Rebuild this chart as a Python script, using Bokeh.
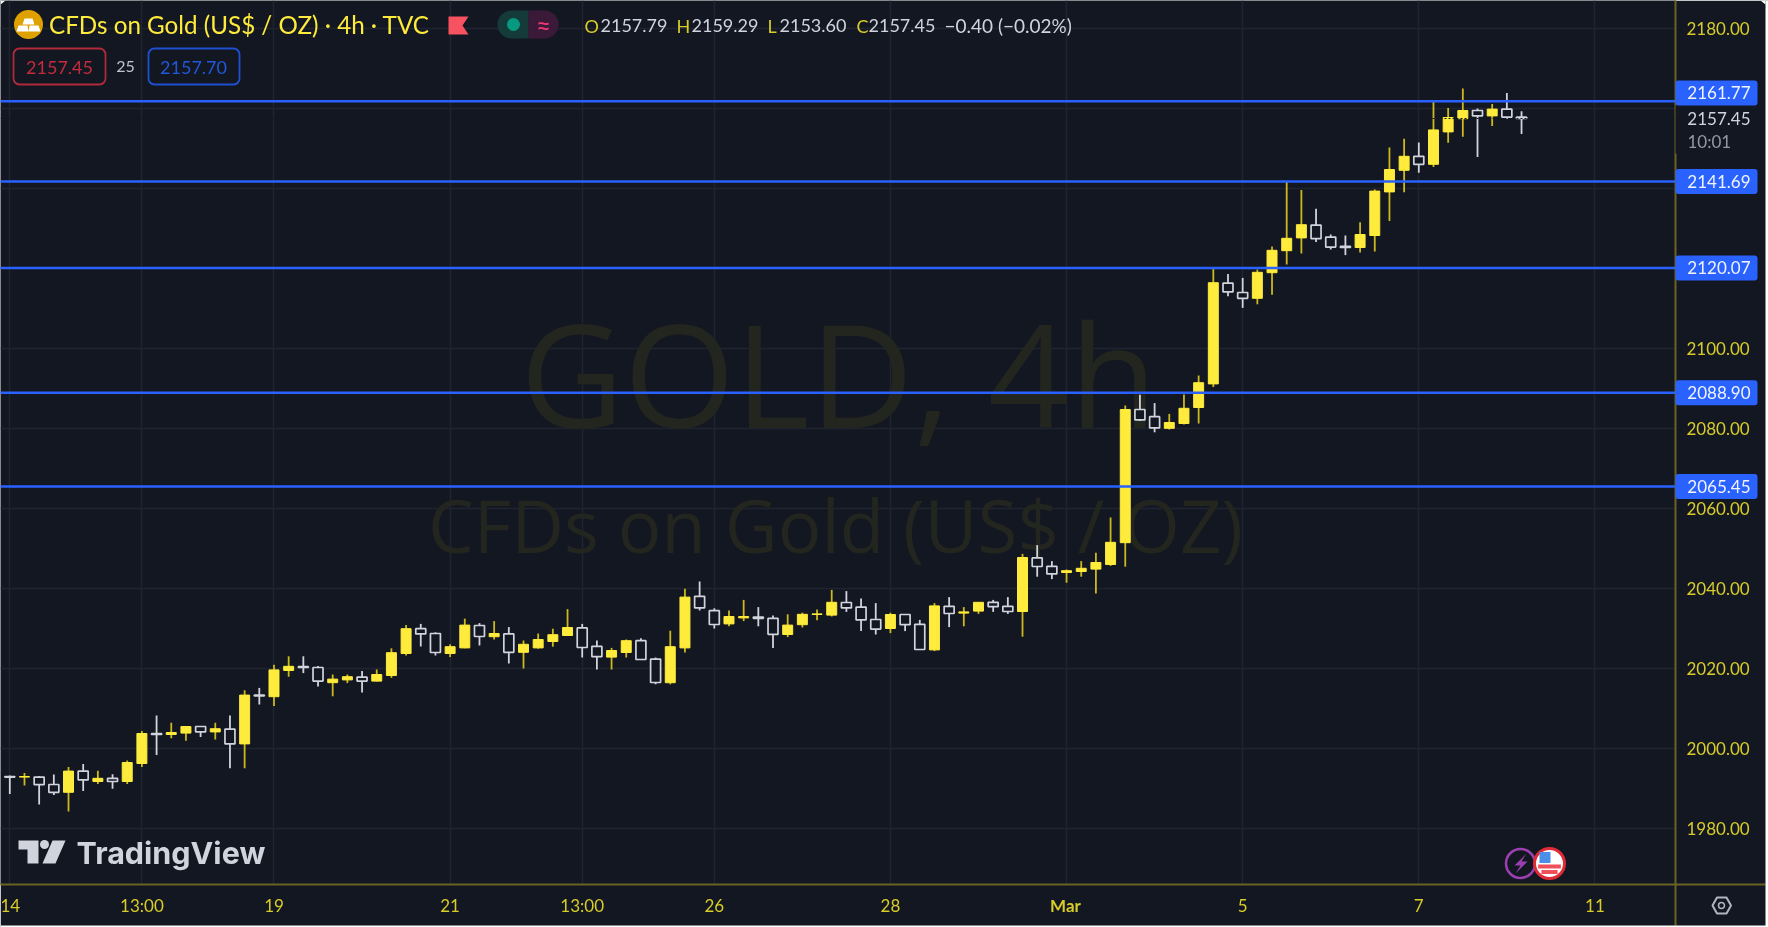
from bokeh.plotting import figure
from bokeh.embed import file_html
from bokeh.resources import INLINE
from bokeh.models import (ColumnDataSource, Range1d, FixedTicker, LinearAxis, Label,
                          BoxAnnotation, PolyAnnotation, Span, Grid)

opens = [1992.95,1992.8,1992.8,1990.95,1989.0,1994.3,1991.7,1992.5,1991.7,1996.2,
         2003.7,2003.45,2003.8,2005.45,2004.1,2004.8,2001.1,2013.3,2012.9,2019.45,
         2020.4,2020.2,2016.4,2017.1,2017.8,2016.8,2018.2,2023.7,2029.9,2028.7,
         2023.7,2025.1,2030.7,2027.9,2028.6,2024.0,2025.1,2026.7,2028.2,2030.1,
         2025.5,2022.8,2023.95,2026.9,2022.3,2016.4,2025.1,2038.0,2034.4,2031.1,
         2032.6,2032.8,2032.5,2028.45,2030.9,2033.45,2033.3,2036.45,2035.3,2032.2,
         2029.95,2033.45,2031.0,2024.6,2035.5,2033.8,2034.3,2036.5,2035.5,2034.2,
         2047.6,2045.5,2043.95,2044.2,2044.8,2045.95,2051.4,2084.7,2082.9,2080.0,
         2081.2,2085.2,2091.1,2116.3,2113.95,2112.5,2118.9,2124.4,2127.6,2130.8,
         2127.8,2125.5,2125.2,2128.2,2139.1,2144.5,2148.0,2146.0,2154.1,2157.4,
         2159.45,2158.1,2159.8,2157.79]
highs = [1993.2,1993.8,1993.1,1993.45,1995.3,1996.1,1994.4,1993.5,1996.95,2004.3,
         2008.2,2006.4,2005.45,2005.5,2006.4,2008.2,2014.5,2015.1,2020.9,2023.0,
         2023.0,2020.6,2018.45,2018.45,2019.3,2019.7,2025.0,2030.8,2031.1,2029.0,
         2026.0,2032.4,2031.3,2031.8,2030.3,2026.95,2028.7,2029.9,2034.8,2031.1,
         2026.95,2025.1,2027.2,2027.5,2022.7,2029.4,2039.9,2041.7,2035.0,2034.45,
         2037.1,2035.3,2033.2,2033.5,2033.9,2034.7,2039.6,2039.3,2037.45,2036.3,
         2033.9,2033.45,2032.1,2036.3,2037.8,2035.3,2036.5,2037.1,2037.8,2048.6,
         2050.8,2046.8,2044.7,2046.8,2048.9,2057.7,2085.7,2088.4,2086.3,2083.6,
         2088.45,2093.2,2120.0,2118.6,2117.6,2119.7,2125.45,2141.7,2139.6,2134.9,
         2128.45,2128.2,2131.5,2139.7,2150.2,2152.4,2151.45,2161.6,2160.1,2164.95,
         2159.95,2161.1,2163.8,2159.29]
lows = [1988.6,1990.7,1985.95,1988.3,1984.2,1989.3,1991.1,1989.9,1991.1,1995.3,
        1998.3,2002.5,2001.9,2002.8,2002.2,1995.0,1995.0,2010.95,2010.6,2017.9,
        2018.8,2015.45,2013.0,2016.3,2013.95,2016.7,2017.6,2023.2,2025.45,2023.2,
        2022.8,2025.0,2025.7,2027.2,2021.2,2019.95,2024.9,2025.4,2028.1,2022.7,
        2019.7,2019.7,2022.7,2022.1,2016.0,2016.0,2023.95,2034.45,2029.95,2030.5,
        2031.8,2030.5,2025.1,2027.8,2030.2,2032.0,2032.95,2034.1,2029.3,2028.45,
        2028.8,2029.3,2024.6,2024.3,2030.3,2030.5,2033.6,2034.1,2033.6,2027.9,
        2042.9,2042.3,2041.4,2042.9,2038.7,2045.6,2045.4,2081.8,2079.0,2079.7,
        2080.95,2081.2,2090.3,2113.0,2110.1,2111.0,2113.4,2120.95,2123.7,2126.6,
        2124.7,2123.3,2123.95,2124.2,2131.8,2139.0,2143.9,2145.3,2151.4,2152.9,
        2147.8,2155.6,2157.3,2153.60]
closes = [1992.8,1992.95,1990.9,1989.0,1994.3,1992.1,1992.5,1991.7,1996.45,2003.7,
          2003.5,2003.95,2005.45,2004.1,2004.9,2001.1,2013.3,2013.1,2019.6,2020.5,
          2020.2,2016.8,2017.3,2017.9,2016.8,2018.45,2023.9,2029.9,2028.6,2023.95,
          2025.4,2030.8,2027.95,2028.7,2024.0,2026.0,2027.2,2028.4,2030.2,2025.2,
          2022.9,2024.45,2026.9,2022.2,2016.45,2025.4,2037.8,2035.1,2030.95,2032.95,
          2032.95,2032.5,2028.5,2030.8,2033.5,2033.6,2036.5,2035.1,2032.1,2029.8,
          2033.45,2030.9,2024.7,2035.6,2033.7,2034.1,2036.5,2035.4,2034.2,2047.7,
          2045.45,2043.6,2044.4,2045.0,2046.45,2051.5,2084.7,2082.1,2080.1,2081.45,
          2085.0,2091.4,2116.4,2114.1,2112.5,2119.0,2124.5,2127.5,2130.9,2127.4,
          2125.3,2125.2,2128.45,2139.3,2144.7,2148.0,2146.0,2154.6,2157.7,2159.45,
          2158.1,2159.8,2157.8,2157.45]

level_prices = [2161.77, 2141.69, 2120.07, 2088.90, 2065.45]
price_ticks = [1980,2000,2020,2040,2060,2080,2100,2120,2140,2160,2180]
price_ticks_under_tags = [2120,2140,2160]
time_tick_bars = [0,9,18,30,39,48,60,72,84,96,108]
time_tick_labels = ["14","13:00","19","21","13:00","26","28","","5","7","11"]

BG = "#131722"; GRID = "#1f2430"; AXIS = "#6b6322"; TICKTXT = "#d8cc28"
UP = "#ffeb3b"; UPW = "#cdb81e"; DOWN = "#d1d4dc"; BLUE = "#2962ff"
FONT = "Lato"

FW, FH = 1675, 884
X0, X1 = -0.634, 113.49
Y_TOP, Y_BOT = 2186.95, 1965.95
def dx(px): return X0 + px * (X1 - X0) / FW
def dy(py): return Y_TOP - py * (Y_TOP - Y_BOT) / FH
def price_px(v): return (Y_TOP - v) * FH / (Y_TOP - Y_BOT)

FIXED = {"position": "fixed", "left": "0px", "top": "0px"}
p = figure(frame_width=FW, frame_height=FH, output_backend="svg", toolbar_location=None,
           x_range=Range1d(X0, X1), y_range=Range1d(Y_BOT, Y_TOP),
           min_border_left=0, min_border_top=0, min_border_right=93, min_border_bottom=43,
           x_axis_location=None, y_axis_location=None,
           background_fill_color=BG, border_fill_color=BG, styles=FIXED)
p.outline_line_color = None
p.center = []

# transparent layer over the whole window for what lies on the axis strips; its data units are pixels
q = figure(frame_width=1768, frame_height=927, output_backend="svg", toolbar_location=None,
           x_range=Range1d(0, 1768), y_range=Range1d(927, 0),
           min_border_left=0, min_border_top=0, min_border_right=0, min_border_bottom=0,
           x_axis_location=None, y_axis_location=None,
           background_fill_alpha=0, border_fill_alpha=0, styles=FIXED)
q.outline_line_color = None
q.center = []

ax_y = LinearAxis(ticker=FixedTicker(ticks=price_ticks))
ax_y.major_label_overrides = {t: ("" if t in price_ticks_under_tags else f"{t:.2f}") for t in price_ticks}
ax_x = LinearAxis(ticker=FixedTicker(ticks=time_tick_bars),
                  major_label_overrides=dict(zip(time_tick_bars, time_tick_labels)))
for ax in (ax_x, ax_y):
    ax.major_tick_line_color = None
    ax.minor_tick_line_color = None
    ax.axis_line_color = AXIS
    ax.axis_line_width = 2
    ax.major_label_text_color = TICKTXT
    ax.major_label_text_font = FONT
    ax.major_label_text_font_size = "17px"
ax_y.major_label_standoff = 5
ax_x.major_label_standoff = 4
p.add_layout(ax_y, "right")
p.add_layout(ax_x, "below")
p.add_layout(Grid(dimension=0, ticker=ax_x.ticker, grid_line_color=GRID, grid_line_width=1.5))
p.add_layout(Grid(dimension=1, ticker=ax_y.ticker, grid_line_color=GRID, grid_line_width=1.5))

def lab(text, x, y, color, size, align="left", font=FONT, style="normal", level="annotation"):
    p.add_layout(Label(x=dx(x), y=dy(y), text=text, text_color=color, text_font=font,
                       text_font_size=f"{size}px", text_align=align, text_baseline="middle",
                       text_font_style=style, level=level))

def box(x0, x1, y0, y1, fill, line=None, radius=0, lw=1.5):
    p.add_layout(BoxAnnotation(left=dx(x0), right=dx(x1), top=dy(y0), bottom=dy(y1),
                               fill_color=fill, fill_alpha=1 if fill else 0,
                               line_color=line, line_alpha=1, line_width=lw, border_radius=radius,
                               level="annotation"))

def poly(pts, fill, line=None, lw=1):
    p.add_layout(PolyAnnotation(xs=[dx(a) for a, b in pts], ys=[dy(b) for a, b in pts],
                                fill_color=fill, fill_alpha=1, line_color=line, line_alpha=1,
                                line_width=lw, level="annotation"))

def qlab(text, x, y, color, size, align="left", style="normal"):
    q.add_layout(Label(x=x, y=y, text=text, text_color=color, text_font=FONT,
                       text_font_size=f"{size}px", text_align=align, text_baseline="middle",
                       text_font_style=style))

def qbox(x0, x1, y0, y1, fill, radius=0):
    q.add_layout(BoxAnnotation(left=x0, right=x1, top=y0, bottom=y1, fill_color=fill, fill_alpha=1,
                               line_color=None, border_radius=radius))

# watermark
WM = "#23251f"
lab("GOLD, 4h", 838, 372, WM, 143, "center", "Open Sans", level="underlay")
lab("CFDs on Gold (US$ / OZ)", 835, 524, WM, 72.7, "center", "Open Sans", level="underlay")

# levels
for lv in level_prices:
    p.add_layout(Span(location=lv, dimension="width", line_color=BLUE, line_width=2.4))

idx = list(range(len(opens)))
up = [i for i in idx if closes[i] >= opens[i]]
dn = [i for i in idx if closes[i] < opens[i]]
for ids, wick, fill, line, lw in ((up, UPW, UP, UP, 1.0), (dn, DOWN, BG, DOWN, 1.7)):
    src = ColumnDataSource(dict(x=ids, o=[opens[i] for i in ids], h=[highs[i] for i in ids],
                                l=[lows[i] for i in ids], c=[closes[i] for i in ids]))
    p.segment("x", "h", "x", "l", source=src, line_color=wick, line_width=1.8)
    p.vbar(x="x", top="o", bottom="c", width=0.68, source=src, fill_color=fill, line_color=line, line_width=lw)

p.add_layout(Span(location=closes[-1], dimension="width", line_color=BG, line_width=1, line_dash="2 2"))

# header icon + title
p.scatter([dx(28)], [dy(24)], size=29, marker="circle", fill_color="#dfa100", line_color=None)
poly([(24,18),(32,18),(34,24),(22,24)], "#ffffff")
poly([(18,25),(27,25),(28,31),(16,31)], "#ffffff")
poly([(29,25),(38,25),(40,31),(28,31)], "#ffffff")
lab("CFDs on Gold (US$ / OZ) · 4h · TVC", 48.5, 24, UP, 24.2)
poly([(448,16),(468,16),(462,25),(468,34),(448,34)], "#f7525f")
p.scatter([dx(511)], [dy(24)], size=28, marker="circle", fill_color="#143a3a", line_color=None)
p.scatter([dx(544)], [dy(24)], size=28, marker="circle", fill_color="#3a1a38", line_color=None)
p.quad(left=[dx(511)], right=[dx(528)], top=[dy(10)], bottom=[dy(38)], fill_color="#143a3a", line_color=None)
p.quad(left=[dx(528)], right=[dx(544)], top=[dy(10)], bottom=[dy(38)], fill_color="#3a1a38", line_color=None)
p.scatter([dx(513)], [dy(24)], size=13, marker="circle", fill_color="#089981", line_color=None)
lab("≈", 543, 24, "#f23674", 26, "center")

ohlc = [("O", 584, "2157.79", 600), ("H", 676, "2159.29", 691),
        ("L", 767, "2153.60", 779), ("C", 856, "2157.45", 868)]
for k, kx, v, vx in ohlc:
    lab(k, kx, 25, TICKTXT, 18)
    lab(v, vx, 25, "#d1d4dc", 18)
lab("−0.40 (−0.02%)", 944, 25, "#d1d4dc", 19)

box(13, 105, 48, 84, None, "#b02a3a", 6, 1.8)
lab("2157.45", 59, 67, "#c42b3c", 18, "center")
lab("25", 125, 66, "#c0c3cb", 16, "center")
box(148, 239, 48, 84, None, "#1e50d0", 6, 1.8)
lab("2157.70", 193, 67, "#2157d9", 18, "center")

# logo
LOGO = "#d1d4dc"
poly([(18,840),(38,840),(38,863),(27,863),(27,849),(18,849)], LOGO)
p.scatter([dx(44)], [dy(844)], size=9, marker="circle", fill_color=LOGO, line_color=None)
poly([(52,840),(65,840),(55,863),(42,863)], LOGO)
lab("TradingView", 76, 852, LOGO, 30.5, "left", "Inter", "bold")

# event icons
p.scatter([dx(1520)], [dy(863)], size=29, marker="circle", fill_color=BG, line_color="#9c3fb0", line_width=2.5)
poly([(1526,853),(1514,865),(1520,865),(1515,873),(1527,861),(1521,861)], "#9c3fb0")
p.scatter([dx(1549)], [dy(863)], size=30, marker="circle", fill_color="#ffffff", line_color="#e02a35", line_width=3)
p.rect([dx(1549)], [dy(866)], width=1.55, height=1.0, fill_color="#f0505a", line_color=None)
p.rect([dx(1549)], [dy(871.5)], width=1.1, height=1.0, fill_color="#f0505a", line_color=None)
p.rect([dx(1544.5)], [dy(857)], width=0.75, height=2.7, fill_color="#4a8fe8", line_color=None)

# tags on the price strip
qbox(1675, 1757, 105, 153, BG)
qbox(1675, 1757, 80, 105, BLUE, 3)
qlab(f"{level_prices[0]:.2f}", 1750, 91.5, "#f0f3fa", 17, "right")
qlab(f"{closes[-1]:.2f}", 1750, 118, "#d1d4dc", 17, "right")
qlab("10:01", 1687, 141, "#9598a1", 17)
for lv in level_prices[1:]:
    py = price_px(lv)
    qbox(1675, 1757, py - 12.5, py + 12.5, BLUE, 3)
    qlab(f"{lv:.2f}", 1750, py - 0.5, "#f0f3fa", 17, "right")

qlab("Mar", 1065, 905, TICKTXT, 17, "center", "bold")

# axis lines carried to the window edge, settings icon, window edge
qbox(1674, 1676, 884, 925, AXIS)
qbox(1675, 1765, 883, 885, AXIS)
q.patch([1712,1716.5,1726,1730.5,1726,1716.5], [905,897,897,905,913,913], fill_color=BG, line_color="#b2b5be", line_width=2)
q.scatter([1721], [905], size=6, marker="circle", fill_color=BG, line_color="#b2b5be", line_width=1.5)
qbox(1765, 1768, 0, 927, "#ffffff")
qbox(0, 1768, 925, 927, "#ffffff")
q.patch([0,5,0], [0,0,4], fill_color="#ffffff", line_color=None)
q.patch([1760,1765,1765], [0,0,4], fill_color="#ffffff", line_color=None)

open("out.html", "w").write(file_html([p, q], INLINE))
